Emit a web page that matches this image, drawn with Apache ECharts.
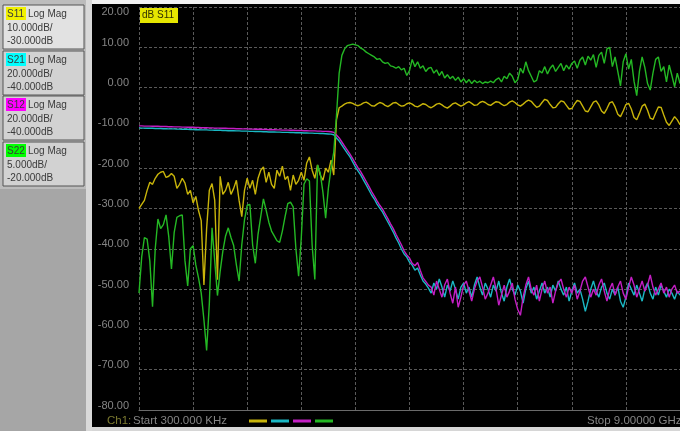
<!DOCTYPE html>
<html><head><meta charset="utf-8">
<script src="https://cdn.jsdelivr.net/npm/echarts@6/dist/echarts.min.js"></script>
<style>html,body{margin:0;padding:0;background:#000;}#c{width:680px;height:431px;}</style>
</head><body><div id="c"></div>
<script>
// ---- data ----
const traceNames = ['S11', 'S21', 'S12', 'S22'];
const traceFormat = 'Log Mag';
const scalePerDiv = [10, 20, 20, 5];        // dB/div
const refLevel = [-30, -40, -40, -20];      // dB at centre line
const traceColors = ['#c8b40a', '#1ab8c4', '#c41ec4', '#24b824'];
const highlightColors = ['#f0f000', '#00ffff', '#ff00ff', '#00ff00'];
const startLabel = 'Start 300.000 KHz';
const stopLabel = 'Stop 9.00000 GHz';
const pointCount = 201;
const yTickLabels = ['20.00','10.00','0.00','-10.00','-20.00','-30.00','-40.00','-50.00','-60.00','-70.00','-80.00'];

const s11 = [
 -30,-29,-28,-25.5,-23.5,-24,-22.5,-21.5,-21,-20.8,
 -22.3,-22,-21.3,-22,-25,-24,-22.5,-23.7,-26.5,-25.5,
 -28.6,-27,-30.5,-33,-49,-35,-25.5,-23.8,-28,-47.7,
 -22,-26.5,-25.5,-23.5,-26.5,-25,-23,-28,-32,-25.5,
 -22.5,-25,-23,-26.5,-22.5,-20.5,-19.7,-23.5,-21,-24,
 -25,-20.5,-22,-19.5,-22.8,-22,-25.5,-21.7,-24,-23,
 -21,-23,-18.7,-17.2,-20.5,-22.5,-19.2,-21.7,-23,-20,
 -21,-18,-21.7,-8,-5,-4.6,-4.1,-3.8,-3.7,-3.9,
 -4.3,-4.5,-4.2,-3.8,-3.6,-4.0,-4.5,-4.6,-4.1,-3.7,
 -3.9,-4.4,-4.7,-4.3,-3.8,-3.7,-4.2,-4.6,-4.5,-4.0,
 -3.8,-4.1,-4.6,-4.8,-4.4,-4.0,-4.2,-4.7,-5.0,-4.6,
 -4.1,-3.9,-4.3,-4.8,-5.1,-4.6,-4.0,-3.8,-4.2,-4.6,
 -4.3,-3.8,-3.5,-3.9,-4.4,-4.3,-3.7,-3.4,-3.7,-4.2,
 -4.4,-3.9,-3.5,-3.6,-4.1,-4.5,-4.2,-3.6,-3.3,-3.7,
 -4.3,-4.6,-4.1,-3.5,-3.1,-3.4,-4.2,-4.9,-4.6,-3.7,
 -2.9,-3.2,-4.2,-5.0,-4.9,-4.0,-3.3,-3.5,-4.4,-5.3,
 -5.2,-4.1,-3.2,-3.4,-4.6,-5.8,-6.0,-4.8,-3.6,-3.3,
 -4.3,-5.8,-6.4,-5.2,-3.8,-3.5,-4.8,-6.6,-7.2,-5.8,
 -4.2,-3.9,-5.3,-7.4,-8.0,-6.4,-4.6,-4.1,-5.6,-7.6,
 -7.9,-6.3,-4.8,-4.9,-6.8,-8.6,-9.4,-8.3,-7.2,-8.0,
 -9.2
];
const s21 = [
 0.0,-0.1,-0.1,-0.2,-0.2,-0.2,-0.3,-0.3,-0.3,-0.4,
 -0.4,-0.5,-0.5,-0.5,-0.6,-0.6,-0.7,-0.7,-0.7,-0.8,
 -0.8,-0.9,-0.9,-1.0,-1.0,-1.0,-1.1,-1.1,-1.2,-1.2,
 -1.2,-1.3,-1.3,-1.4,-1.4,-1.4,-1.5,-1.5,-1.6,-1.6,
 -1.6,-1.7,-1.7,-1.8,-1.8,-1.8,-1.9,-1.9,-2.0,-2.0,
 -2.0,-2.1,-2.1,-2.2,-2.2,-2.2,-2.3,-2.3,-2.4,-2.4,
 -2.4,-2.5,-2.5,-2.6,-2.6,-2.7,-2.7,-2.8,-2.8,-2.9,
 -3.0,-3.1,-3.4,-5.0,-6.5,-8.5,-10.5,-12.5,-14.4,-16.9,
 -19.4,-21.4,-23.4,-25.9,-28.3,-30.8,-33.3,-35.3,-37.8,-39.8,
 -41.7,-44.2,-46.7,-49.2,-51.7,-54.6,-57.1,-60.1,-62.6,-64.1,
 -66.6,-68.1,-70.6,-69.5,-73.0,-76.0,-77.5,-79.5,-82,-77,
 -80,-75,-79,-84,-78,-81,-76,-80,-85,-79,
 -77,-82,-79,-84,-78,-74,-79,-83,-77,-80,
 -84,-78,-81,-76,-82,-86,-79,-75,-80,-83,
 -78,-81,-87,-80,-76,-82,-79,-85,-81,-77,
 -82,-79,-84,-78,-81,-76,-80,-83,-79,-86,
 -81,-77,-82,-80,-85,-91,-86,-80,-76,-81,
 -84,-79,-77,-82,-85,-80,-83,-79,-86,-89,
 -84,-77,-80,-83,-78,-82,-86,-80,-77,-82,
 -85,-79,-83,-78,-81,-84,-80,-82,-85,-81,
 -83
];
const s12 = [
 1.0,1.0,0.9,0.9,0.9,0.8,0.8,0.8,0.7,0.7,
 0.7,0.6,0.6,0.5,0.5,0.5,0.4,0.4,0.3,0.3,
 0.3,0.2,0.2,0.1,0.1,0.1,0.0,0.0,-0.1,-0.1,
 -0.1,-0.2,-0.2,-0.3,-0.3,-0.3,-0.4,-0.4,-0.5,-0.5,
 -0.5,-0.6,-0.6,-0.7,-0.7,-0.7,-0.8,-0.8,-0.9,-0.9,
 -0.9,-1.0,-1.0,-1.1,-1.1,-1.1,-1.2,-1.2,-1.3,-1.3,
 -1.3,-1.4,-1.4,-1.5,-1.5,-1.5,-1.6,-1.6,-1.7,-1.7,
 -1.8,-1.9,-2.2,-3.5,-5.0,-7.0,-9.0,-11.0,-13.0,-15.2,
 -17.6,-19.8,-21.8,-24.2,-26.6,-29.0,-31.6,-33.8,-36.2,-38.4,
 -40.2,-42.6,-45.0,-47.6,-50.0,-52.8,-55.4,-58.0,-61.0,-63.0,
 -64.6,-67.2,-68.4,-66.8,-70.8,-74.4,-76.2,-78.0,-79,-83,
 -76,-80,-84,-78,-75,-82,-87,-79,-89,-84,
 -78,-76,-81,-86,-80,-76,-74,-79,-85,-82,
 -78,-74,-80,-88,-83,-78,-84,-81,-77,-85,
 -90,-93,-84,-78,-74,-80,-83,-78,-86,-80,
 -76,-82,-79,-87,-81,-77,-75,-80,-84,-79,
 -82,-78,-85,-81,-76,-74,-79,-84,-80,-83,
 -78,-75,-81,-86,-80,-77,-83,-79,-76,-82,
 -85,-79,-74,-78,-84,-80,-76,-81,-78,-73,
 -79,-83,-80,-77,-82,-79,-84,-80,-78,-82,
 -81
];
const s22 = [
 -30.5,-26.0,-23.6,-23.8,-26.5,-32.2,-25.0,-21.3,-22.5,-22.0,
 -20.8,-23.5,-27.5,-23.0,-21.1,-20.9,-20.8,-26.5,-29.6,-25.0,
 -24.6,-27.0,-28.6,-30.5,-33.8,-37.6,-31.8,-22.4,-26.5,-30.8,
 -27.8,-25.3,-23.4,-22.4,-23.6,-24.6,-27.0,-29.0,-24.5,-21.4,
 -19.6,-19.5,-24.5,-26.8,-23.2,-21.0,-18.8,-20.2,-21.7,-22.8,
 -23.4,-24.0,-24.2,-22.8,-21.0,-19.4,-19.2,-19.8,-25.0,-28.4,
 -23.6,-17.0,-16.3,-16.6,-24.5,-28.8,-14.6,-15.6,-18.0,-21.2,
 -17.5,-15.0,-13.0,-8.5,-3.2,-1.0,-0.2,0.2,0.3,0.4,
 0.3,0.2,-0.1,-0.3,-0.6,-0.8,-1.0,-1.2,-1.5,-1.4,
 -1.8,-2.0,-1.9,-2.3,-2.4,-2.6,-2.4,-2.8,-2.6,-3.5,
 -2.9,-1.5,-2.4,-1.8,-2.6,-2.3,-3.0,-2.6,-2.5,-3.2,
 -2.8,-3.5,-3.0,-3.8,-3.4,-3.9,-3.6,-4.1,-3.7,-4.3,
 -3.9,-4.4,-4.0,-4.5,-4.1,-4.4,-4.2,-4.5,-4.3,-4.4,
 -4.2,-4.4,-4.0,-3.8,-4.3,-3.6,-3.9,-3.2,-3.6,-4.4,
 -4.0,-2.6,-3.2,-1.8,-2.9,-3.6,-4.3,-4.1,-2.9,-3.2,
 -2.4,-3.3,-2.6,-2.2,-3.0,-2.5,-2.0,-2.9,-2.2,-2.7,
 -2.0,-1.7,-2.6,-1.6,-1.2,-2.2,-1.1,-1.6,-0.9,-2.5,
 -1.0,-0.6,-2.0,-0.2,0.0,-2.4,-1.2,-3.0,-4.8,-1.8,
 -0.8,-2.7,-1.5,-4.2,-6.0,-3.0,-1.2,-2.5,-4.5,-5.3,
 -3.2,-1.5,-1.2,-3.0,-2.4,-4.3,-2.2,-3.5,-4.9,-3.2,
 -4.5
];
const traceData = [s11, s21, s12, s22];
const axisOfTrace = [0, 1, 1, 2];

// ---- chart ----
const categories = [];
for (let i = 0; i < pointCount; i++) categories.push(i);

const FONT = '"Liberation Sans", Arial, sans-serif';
const labelGray = '#858585';
const gridGray = '#5a5a5a';

function axisRange(k) {
  return { min: refLevel[k] - 5 * scalePerDiv[k], max: refLevel[k] + 5 * scalePerDiv[k], interval: scalePerDiv[k] };
}
const r0 = axisRange(0), r1 = axisRange(1), r3 = axisRange(3);

const graphics = [];
// left panel
graphics.push({ type: 'rect', shape: { x: 0, y: 0, width: 86, height: 431 }, style: { fill: '#a6a6a6' } });
graphics.push({ type: 'rect', shape: { x: 0, y: 0, width: 86, height: 189 }, style: { fill: '#bcbcbc' } });
graphics.push({ type: 'rect', shape: { x: 86, y: 0, width: 6, height: 431 }, style: { fill: '#d9d9d9' } });
graphics.push({ type: 'rect', shape: { x: 92, y: 0, width: 588, height: 4 }, style: { fill: '#f2f2f2' } });
graphics.push({ type: 'rect', shape: { x: 92, y: 427, width: 588, height: 4 }, style: { fill: '#d6d6d6' } });
const boxTops = [5, 51, 96, 142];
for (let k = 0; k < 4; k++) {
  const t = boxTops[k];
  graphics.push({ type: 'rect', shape: { x: 3, y: t, width: 81, height: 44 },
    style: { fill: k === 0 ? '#e2e2e2' : '#d2d2d2', stroke: '#555', lineWidth: 1 } });
  graphics.push({ type: 'rect', shape: { x: 6, y: t + 2, width: 20, height: 13 }, style: { fill: highlightColors[k] } });
  graphics.push({ type: 'text', x: 7, y: t + 9, style: { text: traceNames[k], fill: '#3a3a3a', font: '10px ' + FONT, verticalAlign: 'middle', textVerticalAlign: 'middle' } });
  graphics.push({ type: 'text', x: 28, y: t + 9, style: { text: traceFormat, fill: '#3a3a3a', font: '10px ' + FONT, verticalAlign: 'middle', textVerticalAlign: 'middle' } });
  graphics.push({ type: 'text', x: 7, y: t + 23, style: { text: scalePerDiv[k].toFixed(3) + 'dB/', fill: '#3a3a3a', font: '10px ' + FONT, verticalAlign: 'middle', textVerticalAlign: 'middle' } });
  graphics.push({ type: 'text', x: 7, y: t + 36, style: { text: refLevel[k].toFixed(3) + 'dB', fill: '#3a3a3a', font: '10px ' + FONT, verticalAlign: 'middle', textVerticalAlign: 'middle' } });
}
// active trace marker
graphics.push({ type: 'rect', shape: { x: 140, y: 8, width: 38, height: 15 }, style: { fill: '#e6e600' } });
graphics.push({ type: 'text', x: 142, y: 15.5, style: { text: 'dB ' + traceNames[0], fill: '#303000', font: '10px ' + FONT, verticalAlign: 'middle', textVerticalAlign: 'middle' } });
// bottom status line
graphics.push({ type: 'text', x: 107, y: 421, style: { text: 'Ch1:', fill: '#7c7a30', font: '11.5px ' + FONT, verticalAlign: 'middle', textVerticalAlign: 'middle' } });
graphics.push({ type: 'text', x: 133, y: 421, style: { text: startLabel, fill: labelGray, font: '11.5px ' + FONT, verticalAlign: 'middle', textVerticalAlign: 'middle' } });
graphics.push({ type: 'text', x: 587, y: 421, style: { text: stopLabel, fill: labelGray, font: '11.5px ' + FONT, verticalAlign: 'middle', textVerticalAlign: 'middle' } });
for (let k = 0; k < 4; k++) {
  graphics.push({ type: 'rect', shape: { x: 249 + 22 * k, y: 419.5, width: 18, height: 3 }, style: { fill: traceColors[k] } });
}

const option = {
  backgroundColor: '#000',
  animation: false,
  grid: { left: 139, right: -4, top: 7, bottom: 21, containLabel: false },
  xAxis: {
    type: 'category', data: categories, boundaryGap: false,
    axisLabel: { show: false }, axisTick: { show: false },
    axisLine: { show: true, onZero: false, lineStyle: { color: '#6a6a6a', width: 1 } },
    splitLine: { show: true, interval: 19, lineStyle: { color: gridGray, type: [3, 2], width: 1 } }
  },
  yAxis: [
    { type: 'value', min: r0.min, max: r0.max, interval: r0.interval,
      axisLine: { show: false }, axisTick: { show: false },
      splitLine: { show: true, lineStyle: { color: gridGray, type: [3, 2], width: 1 } },
      axisLabel: {
        show: true, showMinLabel: true, showMaxLabel: true, margin: 10,
        color: labelGray, fontSize: 11, fontFamily: FONT,
        verticalAlign: 'middle', padding: [0, 0, 9, 0],
        formatter: function (v) {
          const idx = Math.round((r0.max - v) / r0.interval);
          const txt = yTickLabels[idx];
          return v === r0.max ? '{t|' + txt + '}' : txt;
        },
        rich: { t: { padding: [19, 0, 0, 0], color: labelGray, fontSize: 11, fontFamily: FONT } }
      } },
    { type: 'value', min: r1.min, max: r1.max, interval: r1.interval, show: false, splitLine: { show: false } },
    { type: 'value', min: r3.min, max: r3.max, interval: r3.interval, show: false, splitLine: { show: false } }
  ],
  series: traceData.map(function (d, k) {
    return {
      name: traceNames[k], type: 'line', data: d, yAxisIndex: axisOfTrace[k],
      showSymbol: false, symbol: 'none', silent: true, z: 2 + k,
      lineStyle: { color: traceColors[k], width: 1.4 }, itemStyle: { color: traceColors[k] }
    };
  }),
  graphic: { elements: graphics }
};
const chart = echarts.init(document.getElementById('c'));
chart.setOption(option);
</script>
</body></html>
